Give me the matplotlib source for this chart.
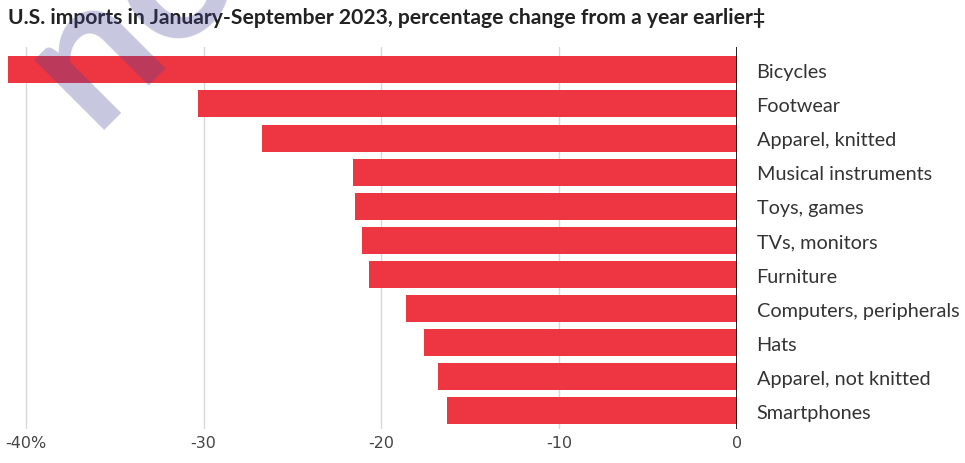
import matplotlib.pyplot as plt

categories = ["Bicycles", "Footwear", "Apparel, knitted", "Musical instruments",
              "Toys, games", "TVs, monitors", "Furniture", "Computers, peripherals",
              "Hats", "Apparel, not knitted", "Smartphones"]
values = [-41.0, -30.3, -26.7, -21.6, -21.5, -21.1, -20.7, -18.6, -17.6, -16.8, -16.3]
xticks = [-40, -30, -20, -10, 0]
xtick_labels = ["-40%", "-30", "-20", "-10", "0"]
title = "U.S. imports in January-September 2023, percentage change from a year earlier\u2021"

W, H = 965, 464
fig = plt.figure(figsize=(W / 100, H / 100), dpi=100)
# axes: left edge at the longest bar, right edge at the zero line
ax = fig.add_axes([8 / W, 1 - 430 / H, 729 / W, 382 / H])

ypos = list(range(len(categories)))
ax.barh(ypos, values, height=0.79, color="#ee3542", zorder=2)
ax.set_xlim(-41, 0)
ax.set_ylim(10.53, -0.67)

ax.set_xticks(xticks)
ax.set_xticklabels(xtick_labels, fontsize=11.5, color="#444444",
                   family=["Liberation Sans Narrow", "DejaVu Sans"])
ax.tick_params(axis="x", length=0, pad=4)
ax.set_yticks([])
for t in xticks[:-1]:
    ax.axvline(t, color="#d9d9d9", lw=1, zorder=1)
ax.axvline(0, color="#111111", lw=2, zorder=3)
for s in ax.spines.values():
    s.set_visible(False)

# category labels to the right of the zero line
for y, name in zip(ypos, categories):
    ax.text(1.1, y + 0.05, name, fontsize=14.3, color="#333333", family="Lato",
            va="center", ha="left", clip_on=False)

fig.text(8 / W, 1 - 18 / H, title, fontsize=15.2, fontweight="bold", color="#222222",
         family="Lato", va="center", ha="left")

# watermark
fig.text(92 / W, 1 - 130 / H, "no", fontsize=140, fontweight="bold", family="Lato",
         color=(68 / 255, 68 / 255, 153 / 255), alpha=0.3, rotation=45,
         rotation_mode="anchor", ha="left", va="baseline")

fig.savefig("out.png", dpi=100)
